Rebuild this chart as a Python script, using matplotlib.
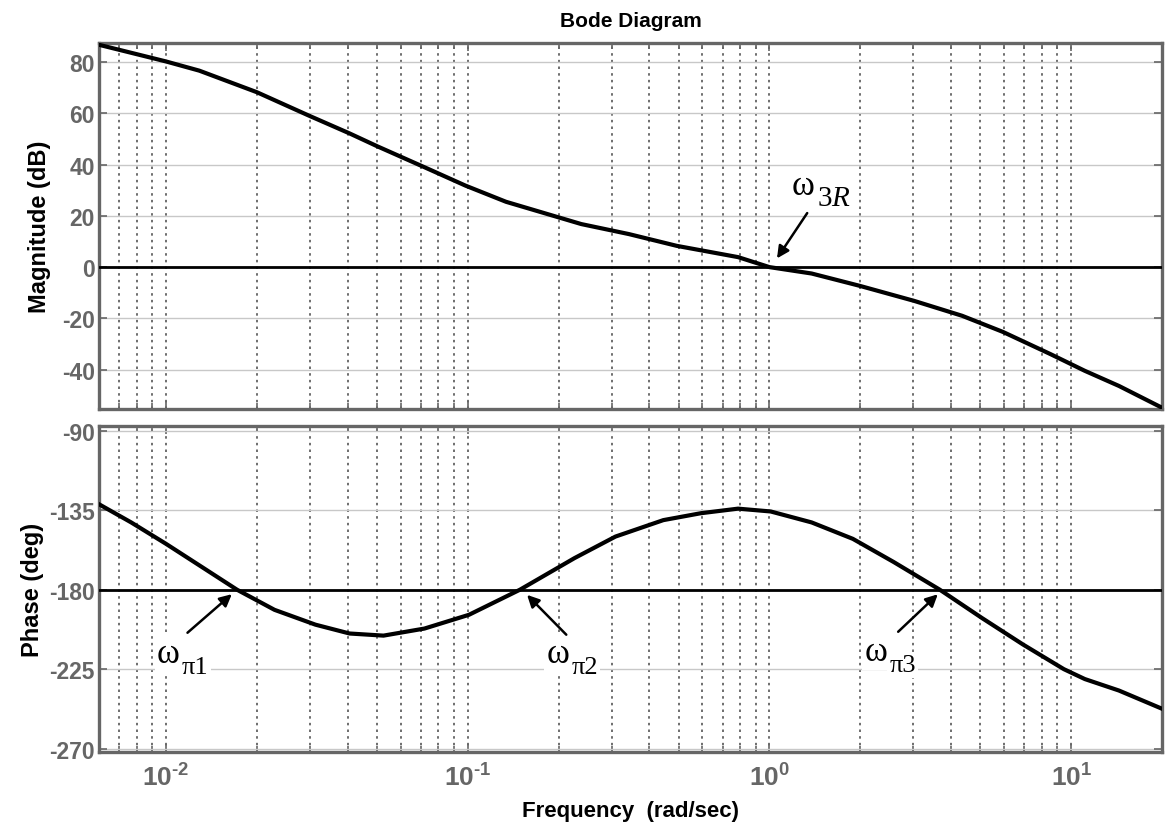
import numpy as np
import matplotlib
matplotlib.use('Agg')
import matplotlib.pyplot as plt
from matplotlib.ticker import FixedLocator, FuncFormatter, LogLocator, NullFormatter

plt.rcParams['font.family'] = ['Liberation Sans', 'DejaVu Sans']
plt.rcParams['axes.unicode_minus'] = False
plt.rcParams['mathtext.fontset'] = 'custom'
plt.rcParams['mathtext.rm'] = 'Liberation Serif'
plt.rcParams['mathtext.it'] = 'Liberation Serif:italic'
plt.rcParams['mathtext.bf'] = 'Liberation Sans:bold'

# magnitude curve (rad/sec, dB)
w_mag = [0.006, 0.01, 0.0129, 0.02, 0.0297, 0.0406, 0.0501, 0.0719, 0.0984, 0.134,
         0.238, 0.342, 0.493, 0.787, 1.0, 1.38, 1.99, 3.02, 4.35, 5.94, 8.55, 11.1, 14.4, 20]
mag = [86.8, 80.3, 76.7, 68.3, 59.2, 52.2, 47.2, 39.0, 31.8, 25.5,
       16.8, 12.9, 8.3, 3.9, 0.0, -2.5, -7.3, -13.2, -19.0, -25.3, -34.0, -40.5, -46.4, -54.9]

# phase curve (rad/sec, deg)
w_ph = [0.006, 0.00767, 0.01, 0.0129, 0.0172, 0.0229, 0.0313, 0.0406, 0.0526, 0.0719,
        0.101, 0.149, 0.226, 0.309, 0.445, 0.592, 0.787, 1.01, 1.38, 1.89, 2.58, 3.67,
        5.07, 6.92, 9.46, 11.1, 14.4, 20]
phase = [-131.6, -141.9, -154.0, -166.2, -180, -191.4, -199.8, -204.8, -206.0, -202.0,
         -194.2, -180, -162.1, -149.9, -140.6, -136.7, -134.1, -135.7, -141.9, -151.2, -164.3, -180,
         -196.1, -211.0, -225, -230.6, -237.1, -247.4]

mag_ticks = [-40, -20, 0, 20, 40, 60, 80]
ph_ticks = [-270, -225, -180, -135, -90]
x_ticks = [0.01, 0.1, 1, 10]

# annotations: subscript, text anchor (end of omega, baseline), arrow tail, arrow head
mag_notes = [(r'$3\mathit{R}$', (1.413, 28.6), (1.35, 22), (1.047, 2.5))]
ph_notes = [('\u03c01', (0.01113, -220.7), (0.0116, -205.4), (0.0168, -181.5)),
            ('\u03c02', (0.2172, -220.7), (0.2154, -206.6), (0.155, -181.8)),
            ('\u03c03', (2.455, -219.6), (2.63, -204.9), (3.67, -181.5))]

gray = '#666666'

fig = plt.figure(figsize=(11.65, 8.28), dpi=100)
ax1 = fig.add_axes([99/1165, 1-410/828, (1162-99)/1165, (410-44)/828])
ax2 = fig.add_axes([99/1165, 1-753/828, (1162-99)/1165, (753-427)/828])

def style(ax, yt):
    ax.set_xscale('log')
    ax.set_xlim(0.006, 20)
    ax.xaxis.set_major_locator(FixedLocator(x_ticks))
    ax.xaxis.set_minor_locator(LogLocator(base=10, subs=np.arange(2, 10), numticks=20))
    ax.xaxis.set_minor_formatter(NullFormatter())
    ax.set_yticks(yt)
    for s in ax.spines.values():
        s.set_color(gray)
        s.set_linewidth(2.4)
    ax.tick_params(which='both', direction='in', top=True, right=True, color=gray,
                   labelcolor=gray, labelsize=16.5, width=1.2)
    ax.tick_params(which='major', length=6, pad=3)
    ax.tick_params(which='minor', length=4)
    for lab in ax.get_yticklabels():
        lab.set_fontweight('bold')
    ax.grid(True, which='both', axis='x', color='#555555', linestyle=(0, (1.5, 2.5)), linewidth=1.2)
    ax.grid(True, which='major', axis='y', color='#c8c8c8', linestyle='-', linewidth=1.0)

def xfmt(v, p):
    e = int(round(np.log10(v)))
    s = ('\u2010%d' % -e) if e < 0 else '%d' % e
    return r'$\mathbf{10^{%s}}$' % s

style(ax1, mag_ticks)
ax1.set_ylim(-55.4, 87.5)
ax1.xaxis.set_major_formatter(NullFormatter())
ax1.axhline(0, color='black', lw=2, zorder=3)
ax1.plot(w_mag, mag, color='black', lw=3, zorder=4)
ax1.set_ylabel('Magnitude (dB)', fontsize=17, fontweight='bold', labelpad=8)
ax1.set_title('Bode Diagram', fontsize=15, fontweight='bold', pad=12)

style(ax2, ph_ticks)
ax2.set_ylim(-271.9, -87.3)
ax2.xaxis.set_major_formatter(FuncFormatter(xfmt))
ax2.tick_params(axis='x', which='major', labelsize=19, pad=8)
ax2.axhline(-180, color='black', lw=2, zorder=3)
ax2.plot(w_ph, phase, color='black', lw=3, zorder=4)
ax2.set_ylabel('Phase (deg)', fontsize=17, fontweight='bold', labelpad=4)
ax2.set_xlabel('Frequency  (rad/sec)', fontsize=16, fontweight='bold', labelpad=7)

box = dict(facecolor='white', edgecolor='none', pad=1.5)
for ax, notes in [(ax1, mag_notes), (ax2, ph_notes)]:
    for sub, pos, tail, head in notes:
        ax.text(pos[0], pos[1], '\u03c9', family='Liberation Serif', fontsize=25,
                ha='right', va='baseline', zorder=6, bbox=box)
        fs = 21 if sub.startswith('$') else 19
        ax.annotate(sub, xy=pos, xytext=(1.5, -8), textcoords='offset points',
                    family='Liberation Serif', fontsize=fs, ha='left', va='baseline',
                    zorder=5, bbox=box)
        ax.annotate('', xy=head, xytext=tail, zorder=7,
                    arrowprops=dict(arrowstyle='-|>', color='black', lw=1.8, mutation_scale=18))

fig.savefig('out.png', dpi=100)
